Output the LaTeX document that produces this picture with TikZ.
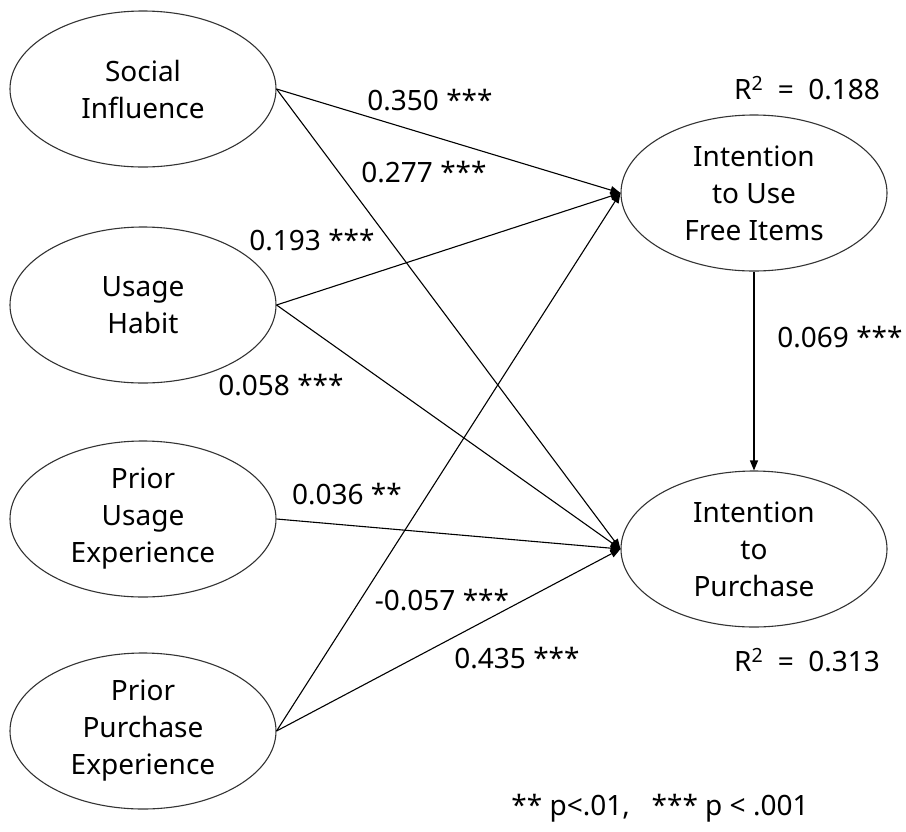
\documentclass[tikz,border=0pt]{standalone}
\usepackage{fontspec}
\setmainfont{Noto Sans}
\usetikzlibrary{arrows.meta,shapes.geometric}
\tikzset{
  construct/.style={ellipse, draw=black!80, line width=1.1pt, minimum width=266pt,
    minimum height=156pt, inner sep=0pt, align=center},
  coef/.style={inner sep=0pt},
  path/.style={line width=1.1pt, -{Triangle[length=10pt,width=8pt]}}
}

\begin{document}
\begin{tikzpicture}[x=1pt, y=-1pt, font=\fontsize{28}{37}\selectfont]
  \useasboundingbox (0,0) rectangle (906,831);

  % ===== CONSTRUCTS (left) =====
  \node[construct] (si) at (143,89)  {Social\\Influence};
  \node[construct] (uh) at (143,305) {Usage\\Habit};
  \node[construct] (pu) at (143,519) {Prior\\Usage\\Experience};
  \node[construct] (pp) at (143,731) {Prior\\Purchase\\Experience};

  % ===== CONSTRUCTS (right) =====
  \node[construct] (iu) at (754,193) {Intention\\to Use\\Free Items};
  \node[construct] (ip) at (754,549) {Intention\\to\\Purchase};

  % ===== PATHS =====
  \draw[path] (si.east) -- (iu.west);
  \draw[path] (si.east) -- (ip.west);
  \draw[path] (uh.east) -- (iu.west);
  \draw[path] (uh.east) -- (ip.west);
  \draw[path] (pu.east) -- (ip.west);
  \draw[path] (pp.east) -- (iu.west);
  \draw[path] (pp.east) -- (ip.west);
  \draw[path] (iu.south) -- (ip.north);

  % ===== COEFFICIENTS =====
  \node[coef] (c1) at (430,100) {0.350 ***};
  \node[coef] (c2) at (424,172) {0.277 ***};
  \node[coef] (c3) at (312,240) {0.193 ***};
  \node[coef] (c4) at (281,385) {0.058 ***};
  \node[coef] (c5) at (347,494) {0.036 **};
  \node[coef] (c6) at (442,600) {-0.057 ***};
  \node[coef] (c7) at (517,658) {0.435 ***};
  \node[coef] (c8) at (840,337) {0.069 ***};

  % ===== R SQUARED =====
  \node[coef] (r1) at (807,88)  {R\textsuperscript{2}\ \ =\ \ 0.188};
  \node[coef] (r2) at (807,660) {R\textsuperscript{2}\ \ =\ \ 0.313};

  % ===== NOTE =====
  \node[coef] (note) at (660,808) {**\ p<.01,\ \ \ ***\ p\ <\ .001};

\end{tikzpicture}
\end{document}
